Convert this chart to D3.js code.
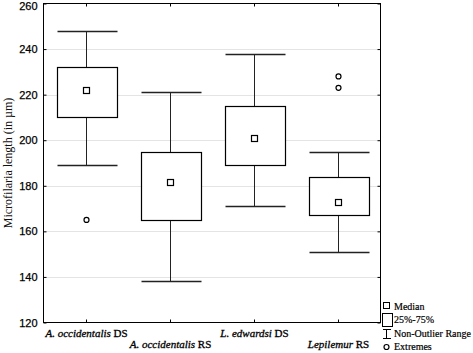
<!DOCTYPE html>
<html><head><meta charset="utf-8">
<script src="https://cdn.jsdelivr.net/npm/d3@7"></script>
<style>body{margin:0;background:#fff}svg{display:block}</style>
</head><body>
<script>
const genus = ["A. occidentalis", "A. occidentalis", "L. edwardsi", "Lepilemur"];
const suffix = ["DS", "RS", "DS", "RS"];
const whiskerLow = [189, 138, 171, 151];
const q1 = [210, 165, 189, 167];
const medians = [222, 181.5, 201, 173];
const q3 = [232, 195, 215, 184];
const whiskerHigh = [248, 221, 238, 195];
const extremes = [[165], [], [], [228, 223]];
const yTicks = [120, 140, 160, 180, 200, 220, 240, 260];
const legendLabels = ["Median", "25%-75%", "Non-Outlier Range", "Extremes"];

const W = 473, H = 353;
const m = {l: 43.5, r: 380.5, t: 3.5, b: 322.5};
const svg = d3.select("body").append("svg").attr("width", W).attr("height", H);

const x = d3.scaleBand().domain(d3.range(4)).range([m.l, m.r]);
const y = d3.scaleLinear().domain([120, 260]).range([m.b, m.t]);

// gridlines
svg.append("g").selectAll("line").data(yTicks.slice(1, -1)).join("line")
  .attr("x1", m.l).attr("x2", m.r)
  .attr("y1", d => Math.round(y(d)) + 0.5).attr("y2", d => Math.round(y(d)) + 0.5)
  .attr("stroke", "#e4e4e4").attr("stroke-width", 1);

// frame
svg.append("rect").attr("x", m.l).attr("y", m.t).attr("width", m.r - m.l).attr("height", m.b - m.t)
  .attr("fill", "none").attr("stroke", "#000").attr("stroke-width", 1);

// y axis left
const yAxis = svg.append("g").attr("transform", `translate(${m.l},0)`)
  .call(d3.axisLeft(y).tickValues(yTicks).tickSize(-3).tickPadding(6).tickFormat(d3.format("d")));
yAxis.select(".domain").remove();
yAxis.selectAll("text").attr("font-family", "Liberation Sans, Arial, sans-serif")
  .attr("font-size", 11).attr("fill", "#000").attr("stroke", "#000").attr("stroke-width", 0.25)
  .attr("dy", d => d === 260 ? "0.55em" : "0.32em");
// y axis right ticks
const yAxisR = svg.append("g").attr("transform", `translate(${m.r},0)`)
  .call(d3.axisRight(y).tickValues(yTicks).tickSize(-3).tickFormat(""));
yAxisR.select(".domain").remove();

// x ticks bottom & top
const xc = i => Math.round(x(i) + x.bandwidth() / 2) + 0.5;
svg.append("g").selectAll("line").data(d3.range(4)).join("line")
  .attr("x1", xc).attr("x2", xc).attr("y1", m.b).attr("y2", m.b - 3).attr("stroke", "#000");
svg.append("g").selectAll("line").data(d3.range(4)).join("line")
  .attr("x1", xc).attr("x2", xc).attr("y1", m.t).attr("y2", m.t + 3).attr("stroke", "#000");

// x labels
const xl = svg.append("g").selectAll("text").data(d3.range(4)).join("text")
  .attr("x", xc).attr("y", i => i % 2 === 0 ? 337 : 348)
  .attr("text-anchor", "middle")
  .attr("font-family", "Liberation Serif, Times New Roman, serif")
  .attr("font-size", 11).attr("fill", "#000").attr("stroke", "#000").attr("stroke-width", 0.3);
xl.append("tspan").attr("font-style", "italic").text(i => genus[i]);
xl.append("tspan").text(i => " " + suffix[i]);

// y title
svg.append("text").attr("transform", `translate(12,${(m.t + m.b) / 2}) rotate(-90)`)
  .attr("text-anchor", "middle")
  .attr("font-family", "Liberation Serif, Times New Roman, serif")
  .attr("font-size", 12).attr("fill", "#111")
  .text("Microfilaria length (in µm)");

// boxes
const bw = 60;
const g = svg.append("g");
const py = v => Math.round(y(v)) + 0.5;
d3.range(4).forEach(i => {
  const cx = xc(i);
  const left = Math.round(cx - bw / 2) + 0.5;
  g.append("line").attr("x1", cx).attr("x2", cx).attr("y1", py(whiskerHigh[i])).attr("y2", py(q3[i])).attr("stroke", "#222");
  g.append("line").attr("x1", cx).attr("x2", cx).attr("y1", py(q1[i])).attr("y2", py(whiskerLow[i])).attr("stroke", "#222");
  g.append("line").attr("x1", left).attr("x2", left + bw).attr("y1", py(whiskerHigh[i])).attr("y2", py(whiskerHigh[i])).attr("stroke", "#222").attr("stroke-width", 1.3);
  g.append("line").attr("x1", left).attr("x2", left + bw).attr("y1", py(whiskerLow[i])).attr("y2", py(whiskerLow[i])).attr("stroke", "#222").attr("stroke-width", 1.3);
  g.append("rect").attr("x", left).attr("y", py(q3[i])).attr("width", bw).attr("height", py(q1[i]) - py(q3[i]))
    .attr("fill", "#fff").attr("stroke", "#000").attr("stroke-width", 1.2);
  g.append("rect").attr("x", cx - 3).attr("y", Math.round(y(medians[i])) - 3 + 0.5).attr("width", 6).attr("height", 6)
    .attr("fill", "#fff").attr("stroke", "#000").attr("stroke-width", 1.2);
  extremes[i].forEach(v => {
    g.append("circle").attr("cx", cx).attr("cy", y(v)).attr("r", 2.5)
      .attr("fill", "#fff").attr("stroke", "#000").attr("stroke-width", 1.2);
  });
});

// legend
const lg = svg.append("g").attr("font-family", "Liberation Serif, Times New Roman, serif")
  .attr("font-size", 10).attr("fill", "#000");
const ly = [306, 319.5, 333, 346.5];
legendLabels.forEach((t, k) => {
  lg.append("text").attr("x", 394).attr("y", ly[k] + 3.5).attr("stroke", "#000").attr("stroke-width", 0.2).text(t);
});
lg.append("rect").attr("x", 383.5).attr("y", 302.5).attr("width", 6).attr("height", 6).attr("fill", "#fff").attr("stroke", "#000");
lg.append("rect").attr("x", 382.5).attr("y", 313.5).attr("width", 10).attr("height", 13).attr("fill", "#fff").attr("stroke", "#000");
lg.append("line").attr("x1", 386.5).attr("x2", 386.5).attr("y1", 329).attr("y2", 339).attr("stroke", "#000");
lg.append("line").attr("x1", 383).attr("x2", 391).attr("y1", 329.5).attr("y2", 329.5).attr("stroke", "#000");
lg.append("line").attr("x1", 383).attr("x2", 391).attr("y1", 338.5).attr("y2", 338.5).attr("stroke", "#000");
lg.append("circle").attr("cx", 386.5).attr("cy", 347).attr("r", 2.5).attr("fill", "#fff").attr("stroke", "#000").attr("stroke-width", 1.2);
</script>
</body></html>
